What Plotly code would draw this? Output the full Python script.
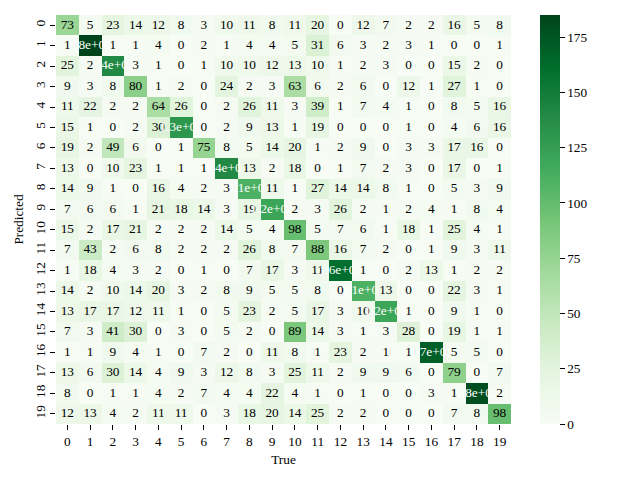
import numpy as np
import plotly.graph_objects as go

labels = [str(i) for i in range(20)]

row_00 = [73, 5, 23, 14, 12, 8, 3, 10, 11, 8, 11, 20, 0, 12, 7, 2, 2, 16, 5, 8]
row_01 = [1, 185, 1, 1, 4, 0, 2, 1, 4, 4, 5, 31, 6, 3, 2, 3, 1, 0, 0, 1]
row_02 = [25, 2, 140, 3, 1, 0, 1, 10, 10, 12, 13, 10, 1, 2, 3, 0, 0, 15, 2, 0]
row_03 = [9, 3, 8, 80, 1, 2, 0, 24, 2, 3, 63, 6, 2, 6, 0, 12, 1, 27, 1, 0]
row_04 = [11, 22, 2, 2, 64, 26, 0, 2, 26, 11, 3, 39, 1, 7, 4, 1, 0, 8, 5, 16]
row_05 = [15, 1, 0, 2, 30, 130, 0, 2, 9, 13, 1, 19, 0, 0, 0, 1, 0, 4, 6, 16]
row_06 = [19, 2, 49, 6, 0, 1, 75, 8, 5, 14, 20, 1, 2, 9, 0, 3, 3, 17, 16, 0]
row_07 = [13, 0, 10, 23, 1, 1, 1, 140, 13, 2, 18, 0, 1, 7, 2, 3, 0, 17, 0, 1]
row_08 = [14, 9, 1, 0, 16, 4, 2, 3, 110, 11, 1, 27, 14, 14, 8, 1, 0, 5, 3, 9]
row_09 = [7, 6, 6, 1, 21, 18, 14, 3, 19, 120, 2, 3, 26, 2, 1, 2, 4, 1, 8, 4]
row_10 = [15, 2, 17, 21, 2, 2, 2, 14, 5, 4, 98, 5, 7, 6, 1, 18, 1, 25, 4, 1]
row_11 = [7, 43, 2, 6, 8, 2, 2, 2, 26, 8, 7, 88, 16, 7, 2, 0, 1, 9, 3, 11]
row_12 = [1, 18, 4, 3, 2, 0, 1, 0, 7, 17, 3, 11, 160, 1, 0, 2, 13, 1, 2, 2]
row_13 = [14, 2, 10, 14, 20, 3, 2, 8, 9, 5, 5, 8, 0, 110, 13, 0, 0, 22, 3, 1]
row_14 = [13, 17, 17, 12, 11, 1, 0, 5, 23, 2, 5, 17, 3, 10, 120, 1, 0, 9, 1, 0]
row_15 = [7, 3, 41, 30, 0, 3, 0, 5, 2, 0, 89, 14, 3, 1, 3, 28, 0, 19, 1, 1]
row_16 = [1, 1, 9, 4, 1, 0, 7, 2, 0, 11, 8, 1, 23, 2, 1, 1, 170, 5, 5, 0]
row_17 = [13, 6, 30, 14, 4, 9, 3, 12, 8, 3, 25, 11, 2, 9, 9, 6, 0, 79, 0, 7]
row_18 = [8, 0, 1, 1, 4, 2, 7, 4, 4, 22, 4, 1, 0, 1, 0, 0, 3, 1, 180, 2]
row_19 = [12, 13, 4, 2, 11, 11, 0, 3, 18, 20, 14, 25, 2, 2, 0, 0, 0, 7, 8, 98]

matrix = [row_00, row_01, row_02, row_03, row_04, row_05, row_06, row_07, row_08, row_09,
          row_10, row_11, row_12, row_13, row_14, row_15, row_16, row_17, row_18, row_19]

colorbar_ticks = [0, 25, 50, 75, 100, 125, 150, 175]

greens_hex = ["#f7fcf5", "#e5f5e0", "#c7e9c0", "#a1d99b", "#74c476",
              "#41ab5d", "#238b45", "#006d2c", "#00441b"]
greens = [[i / 8, c] for i, c in enumerate(greens_hex)]

Z = np.array(matrix, dtype=float)
zmin, zmax = Z.min(), Z.max()

def hex2rgb(h):
    return np.array([int(h[1:3], 16), int(h[3:5], 16), int(h[5:7], 16)]) / 255.0

stops = np.array([hex2rgb(c) for c in greens_hex])

def color_at(t):
    t = min(max(t, 0), 1) * 8
    i = min(int(np.floor(t)), 7)
    f = t - i
    return stops[i] * (1 - f) + stops[i + 1] * f

def text_color(v):
    rgb = color_at((v - zmin) / (zmax - zmin))
    rgb = np.where(rgb <= 0.03928, rgb / 12.92, ((rgb + 0.055) / 1.055) ** 2.4)
    lum = rgb.dot([0.2126, 0.7152, 0.0722])
    return "black" if lum > 0.408 else "white"

xs, ys, txt, cols = [], [], [], []
for r in range(20):
    for c in range(20):
        v = matrix[r][c]
        xs.append(c)
        ys.append(r)
        txt.append("{:.2g}".format(v))
        cols.append(text_color(v))

FONT = "'Times New Roman', 'Liberation Serif', Times, serif"
FS = 13.3
fig = go.Figure()
fig.add_trace(go.Heatmap(
    z=matrix, x=list(range(20)), y=list(range(20)),
    colorscale=greens, zmin=zmin, zmax=zmax,
    hoverinfo="skip",
    colorbar=dict(
        x=(540 - 56) / 455, xanchor="left", y=0.5, yanchor="middle",
        len=1.0, lenmode="fraction", thickness=20, thicknessmode="pixels",
        outlinewidth=0, ticks="outside", ticklen=5, tickwidth=1, tickcolor="black",
        tickvals=colorbar_ticks, ticktext=[str(t) for t in colorbar_ticks],
        tickfont=dict(family=FONT, size=FS, color="black"),
        xpad=0, ypad=0,
    ),
))
fig.add_trace(go.Scatter(
    x=xs, y=ys, text=txt, mode="text",
    textfont=dict(family=FONT, size=FS, color=cols),
    hoverinfo="skip", showlegend=False, cliponaxis=False,
))

fig.update_layout(
    width=640, height=480,
    margin=dict(l=56, r=129, t=15, b=56),
    paper_bgcolor="white", plot_bgcolor="white",
    font=dict(family=FONT, size=FS, color="black"),
    showlegend=False,
    xaxis=dict(
        range=[-0.5, 19.5], tickvals=list(range(20)), ticktext=labels,
        ticks="outside", ticklen=5, tickwidth=1, tickcolor="black",
        showgrid=False, zeroline=False, showline=False, tickangle=0,
        title=dict(text="True", standoff=6, font=dict(family=FONT, size=FS)),
        tickfont=dict(family=FONT, size=FS),
    ),
    yaxis=dict(
        range=[19.5, -0.5], tickvals=list(range(20)), ticktext=labels,
        ticks="outside", ticklen=5, tickwidth=1, tickcolor="black",
        showgrid=False, zeroline=False, showline=False, tickangle=-90,
        title=dict(text="Predicted", standoff=6, font=dict(family=FONT, size=FS)),
        tickfont=dict(family=FONT, size=FS),
    ),
)

fig.write_html("out.html")
